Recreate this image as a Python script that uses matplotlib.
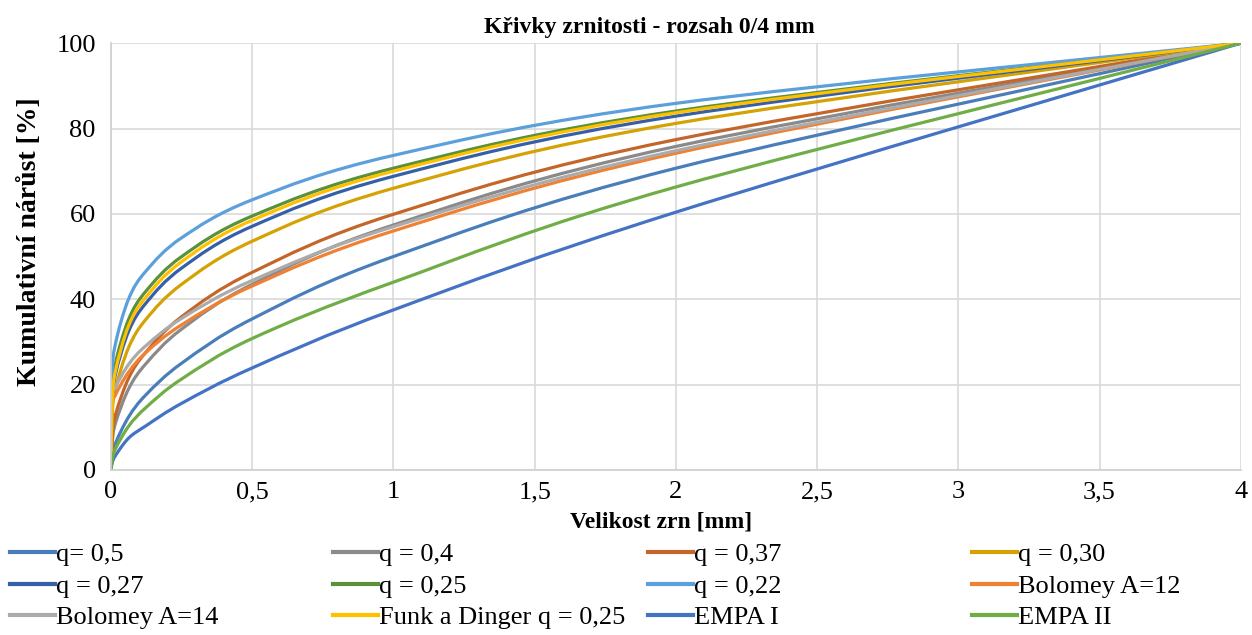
import matplotlib
matplotlib.use("Agg")
import matplotlib.pyplot as plt
import numpy as np
from matplotlib.path import Path
from matplotlib.patches import PathPatch
from matplotlib.lines import Line2D
from matplotlib.ticker import FuncFormatter, MultipleLocator

plt.rcParams['font.family'] = ['Liberation Serif', 'DejaVu Serif']

# síta [mm]
sieves = [0, 0.004, 0.016, 0.063, 0.125, 0.25, 0.5, 1, 2, 4]

# propady [%]
q_050 = [0, 3.2, 6.3, 12.5, 17.7, 25.0, 35.4, 50.0, 70.7, 100]
q_040 = [0, 6.3, 11.0, 19.1, 25.0, 33.0, 43.5, 57.4, 75.8, 100]
q_037 = [0, 7.8, 13.0, 21.6, 27.7, 35.9, 46.3, 59.9, 77.4, 100]
q_030 = [0, 12.6, 19.1, 28.8, 35.4, 43.5, 53.6, 66.0, 81.2, 100]
q_027 = [0, 15.5, 22.5, 32.6, 39.2, 47.3, 57.1, 68.8, 82.9, 100]
q_025 = [0, 17.8, 25.1, 35.4, 42.0, 50.0, 59.5, 70.7, 84.1, 100]
q_022 = [0, 21.9, 29.7, 40.2, 46.7, 54.4, 63.3, 73.7, 85.9, 100]
bolomey_12 = [0, 14.8, 17.6, 23.0, 27.6, 34.0, 43.1, 56.0, 74.2, 100]
bolomey_14 = [0, 16.7, 19.4, 24.8, 29.2, 35.5, 44.4, 57.0, 74.8, 100]
funk_dinger = [0, 15.8, 23.3, 33.9, 40.6, 48.8, 58.5, 70.0, 83.7, 100]
empa_1 = [0, 1.6, 3.4, 7.5, 10.4, 15.6, 23.9, 37.5, 60.4, 100]
empa_2 = [0, 2.3, 5.0, 10.3, 14.7, 21.3, 30.8, 44.0, 66.3, 100]

labels = ["q= 0,5", "q = 0,4", "q = 0,37", "q = 0,30",
          "q = 0,27", "q = 0,25", "q = 0,22", "Bolomey A=12",
          "Bolomey A=14", "Funk a Dinger q = 0,25", "EMPA I", "EMPA II"]
series = [q_050, q_040, q_037, q_030,
          q_027, q_025, q_022, bolomey_12,
          bolomey_14, funk_dinger, empa_1, empa_2]
colors = ["#4A7EBB", "#8A8A8A", "#C4662A", "#D4A202",
          "#3560A8", "#5A913A", "#5B9FDB", "#F08133",
          "#ABABAB", "#FFC000", "#4472C4", "#70AD47"]


def smooth_path(x, y):
    # vyhlazená čára jako v Excelu (Bezier, Catmull-Rom 1/6)
    p = np.column_stack([x, y]).astype(float)
    n = len(p)
    verts = [p[0]]
    codes = [Path.MOVETO]
    for i in range(n - 1):
        p0 = p[i - 1] if i > 0 else p[i]
        p3 = p[i + 2] if i + 2 < n else p[i + 1]
        c1 = p[i] + (p[i + 1] - p0) / 6
        c2 = p[i + 1] - (p3 - p[i]) / 6
        verts += [c1, c2, p[i + 1]]
        codes += [Path.CURVE4] * 3
    return Path(verts, codes)


fig = plt.figure(figsize=(12.52, 6.35), dpi=100)
ax = fig.add_axes([0.0887, 0.26, 0.9023, 0.672])

for vals, col in zip(series, colors):
    ax.add_patch(PathPatch(smooth_path(sieves, vals), fill=False,
                           edgecolor=col, lw=2.3, capstyle='round',
                           joinstyle='round'))

ax.set_xlim(0, 4)
ax.set_ylim(0, 100)
ax.xaxis.set_major_locator(MultipleLocator(0.5))
ax.yaxis.set_major_locator(MultipleLocator(20))
fmt = FuncFormatter(lambda v, pos: f"{v:g}".replace('.', ','))
ax.xaxis.set_major_formatter(fmt)
ax.grid(True, color="#D9D9D9", lw=1.2)
ax.set_axisbelow(True)
for s in ax.spines.values():
    s.set_visible(False)
for side in ('left', 'bottom'):
    ax.spines[side].set_visible(True)
    ax.spines[side].set_color("#D0D0D0")
    ax.spines[side].set_linewidth(1.2)
ax.tick_params(length=0, labelsize=19)
ax.tick_params(axis='x', pad=8)
ax.tick_params(axis='y', pad=11)

fig.text(649 / 1252, 1 - 27 / 635, "Křivky zrnitosti - rozsah 0/4 mm",
         fontsize=17, fontweight='bold', ha='center', va='center')
ax.set_xlabel("Velikost zrn [mm]", fontsize=17, fontweight='bold')
ax.xaxis.set_label_coords((661 - 111) / 1130, (470 - 512) / 427)
ax.set_ylabel("Kumulativní nárůst [%]", fontsize=20, fontweight='bold')
ax.yaxis.set_label_coords((42 - 111) / 1130, (470 - 242) / 427)

handles = [Line2D([], [], color=c, lw=3) for c in colors]
col_x = [10, 333, 648, 972]
for k in range(4):
    idx = [k, k + 4, k + 8]
    fig.legend([handles[i] for i in idx], [labels[i] for i in idx],
               loc='upper left',
               bbox_to_anchor=(col_x[k] / 1252, 1 - 543 / 635),
               frameon=False, fontsize=19, handlelength=1.7,
               handletextpad=0.05, labelspacing=0.3, borderpad=0,
               borderaxespad=0)

fig.savefig("out.png", dpi=100)
